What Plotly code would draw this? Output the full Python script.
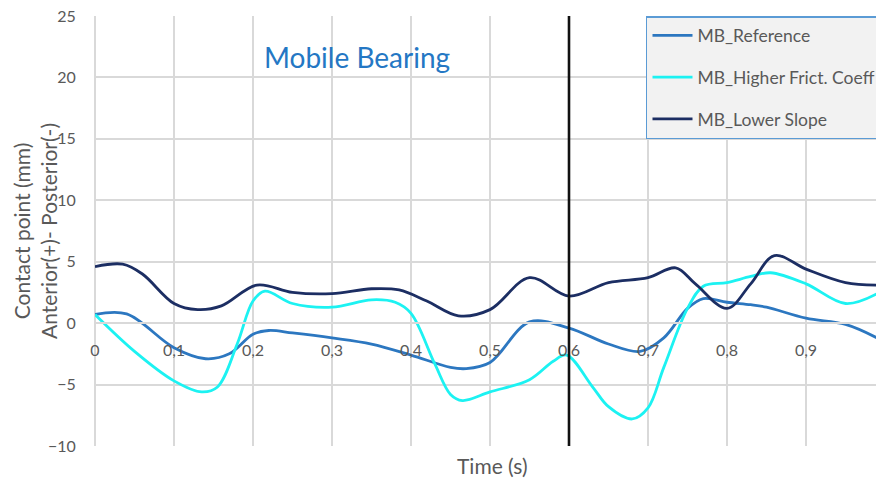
import plotly.graph_objects as go

# Contact point trajectories (mm) over time (s)
t_reference = [0.0, 0.04, 0.1, 0.14, 0.17, 0.2, 0.22, 0.25, 0.3, 0.35, 0.4, 0.45, 0.47, 0.5,
               0.55, 0.6, 0.65, 0.69, 0.72, 0.75, 0.77, 0.8, 0.83, 0.85, 0.9, 0.95, 0.99]
reference = [0.7, 0.75, -2.0, -2.9, -2.5, -0.9, -0.6, -0.8, -1.2, -1.7, -2.6, -3.6, -3.7, -3.2,
             0.1, -0.4, -1.7, -2.3, -1.2, 1.2, 2.0, 1.7, 1.5, 1.3, 0.4, -0.1, -1.2]

t_friction = [0.0, 0.05, 0.1, 0.135, 0.155, 0.18, 0.2, 0.215, 0.25, 0.3, 0.35, 0.38, 0.4, 0.43,
              0.45, 0.465, 0.5, 0.55, 0.58, 0.597, 0.63, 0.65, 0.68, 0.7, 0.72, 0.75, 0.77, 0.8,
              0.83, 0.855, 0.9, 0.95, 0.99]
friction = [0.7, -2.3, -4.7, -5.6, -5.2, -1.7, 1.8, 2.6, 1.6, 1.3, 1.9, 1.7, 0.8, -3.3,
            -5.8, -6.3, -5.6, -4.6, -3.1, -2.6, -5.2, -6.8, -7.8, -6.9, -3.6, 1.2, 3.0, 3.3,
            3.8, 4.1, 3.2, 1.6, 2.4]

t_slope = [0.0, 0.035, 0.06, 0.1, 0.13, 0.16, 0.205, 0.25, 0.3, 0.35, 0.385, 0.42, 0.46, 0.5,
           0.55, 0.6, 0.65, 0.7, 0.735, 0.76, 0.8, 0.83, 0.86, 0.9, 0.95, 0.99]
slope = [4.6, 4.8, 4.0, 1.6, 1.1, 1.4, 3.1, 2.5, 2.4, 2.8, 2.7, 1.8, 0.6, 1.1,
         3.7, 2.2, 3.3, 3.7, 4.5, 3.2, 1.2, 3.2, 5.5, 4.4, 3.3, 3.1]

series_names = ["MB_Reference", "MB_Higher Frict. Coeff", "MB_Lower Slope"]
series_colors = ["#2C77C0", "#1CF2F2", "#1C2E63"]

x_ticks = [0, 0.1, 0.2, 0.3, 0.4, 0.5, 0.6, 0.7, 0.8, 0.9]
x_tick_labels = ["0", "0,1", "0,2", "0,3", "0,4", "0,5", "0,6", "0,7", "0,8", "0,9"]
y_ticks = [-10, -5, 0, 5, 10, 15, 20, 25]

marker_time = 0.6
x_range = [0, 0.9886]
y_range = [-10, 25]

FONT = "Lato, 'Open Sans', sans-serif"
GREY = "#595959"
GRID = "#D9D9D9"

fig = go.Figure()
for name, tx, vals, color in zip(series_names, [t_reference, t_friction, t_slope],
                                 [reference, friction, slope], series_colors):
    fig.add_trace(go.Scatter(
        x=tx, y=vals, name=name, mode="lines", legendgroup=name,
        line=dict(color=color, width=2.8, shape="spline", smoothing=1.0),
    ))

# vertical marker line
fig.add_shape(type="line", xref="x", yref="paper", x0=marker_time, x1=marker_time,
              y0=0, y1=1, line=dict(color="#111111", width=2.6), layer="above")

x_axis_pos = (0 - y_range[0]) / (y_range[1] - y_range[0])

fig.update_layout(
    width=876, height=479,
    margin=dict(l=95, r=0, t=16, b=33, autoexpand=False),
    paper_bgcolor="white", plot_bgcolor="white",
    font=dict(family=FONT, color=GREY, size=16),
    xaxis=dict(
        range=x_range, tickvals=x_ticks, ticktext=x_tick_labels,
        showgrid=True, gridcolor=GRID, gridwidth=1.5,
        zeroline=True, zerolinecolor=GRID, zerolinewidth=1.5,
        showline=True, linecolor=GRID, linewidth=1.5,
        anchor="free", position=x_axis_pos,
        ticks="outside", ticklen=0, ticklabelstandoff=13,
        tickfont=dict(size=16, color=GREY, family=FONT),
    ),
    yaxis=dict(
        range=y_range, tickvals=y_ticks,
        showgrid=True, gridcolor=GRID, gridwidth=1.5,
        zeroline=True, zerolinecolor=GRID, zerolinewidth=1.5,
        ticks="outside", ticklen=0, ticklabelstandoff=15,
        tickfont=dict(size=16, color=GREY, family=FONT),
    ),
    legend=dict(
        x=0.7055, y=1.0, xanchor="left", yanchor="top",
        bgcolor="#F2F2F2", bordercolor="#5B9BD5", borderwidth=1.5,
        font=dict(size=17.5, color=GREY, family=FONT),
        tracegroupgap=16, itemwidth=40,
    ),
    showlegend=True,
)

fig.add_annotation(text="Mobile Bearing", xref="paper", yref="paper",
                   x=(357 - 95) / 781, y=(446 - 57) / 430, showarrow=False,
                   xanchor="center", yanchor="middle",
                   font=dict(size=28, color="#2477C4", family=FONT))
fig.add_annotation(text="Time (s)", xref="paper", yref="paper",
                   x=(492 - 95) / 781, y=(446 - 465) / 430, showarrow=False,
                   xanchor="center", yanchor="middle",
                   font=dict(size=21, color=GREY, family=FONT))
fig.add_annotation(text="Contact point (mm)<br>Anterior(+)- Posterior(-)",
                   xref="paper", yref="paper",
                   x=(35 - 95) / 781, y=0.5, showarrow=False, textangle=-90,
                   xanchor="center", yanchor="middle",
                   font=dict(size=21, color=GREY, family=FONT))

fig.write_html("out.html")
